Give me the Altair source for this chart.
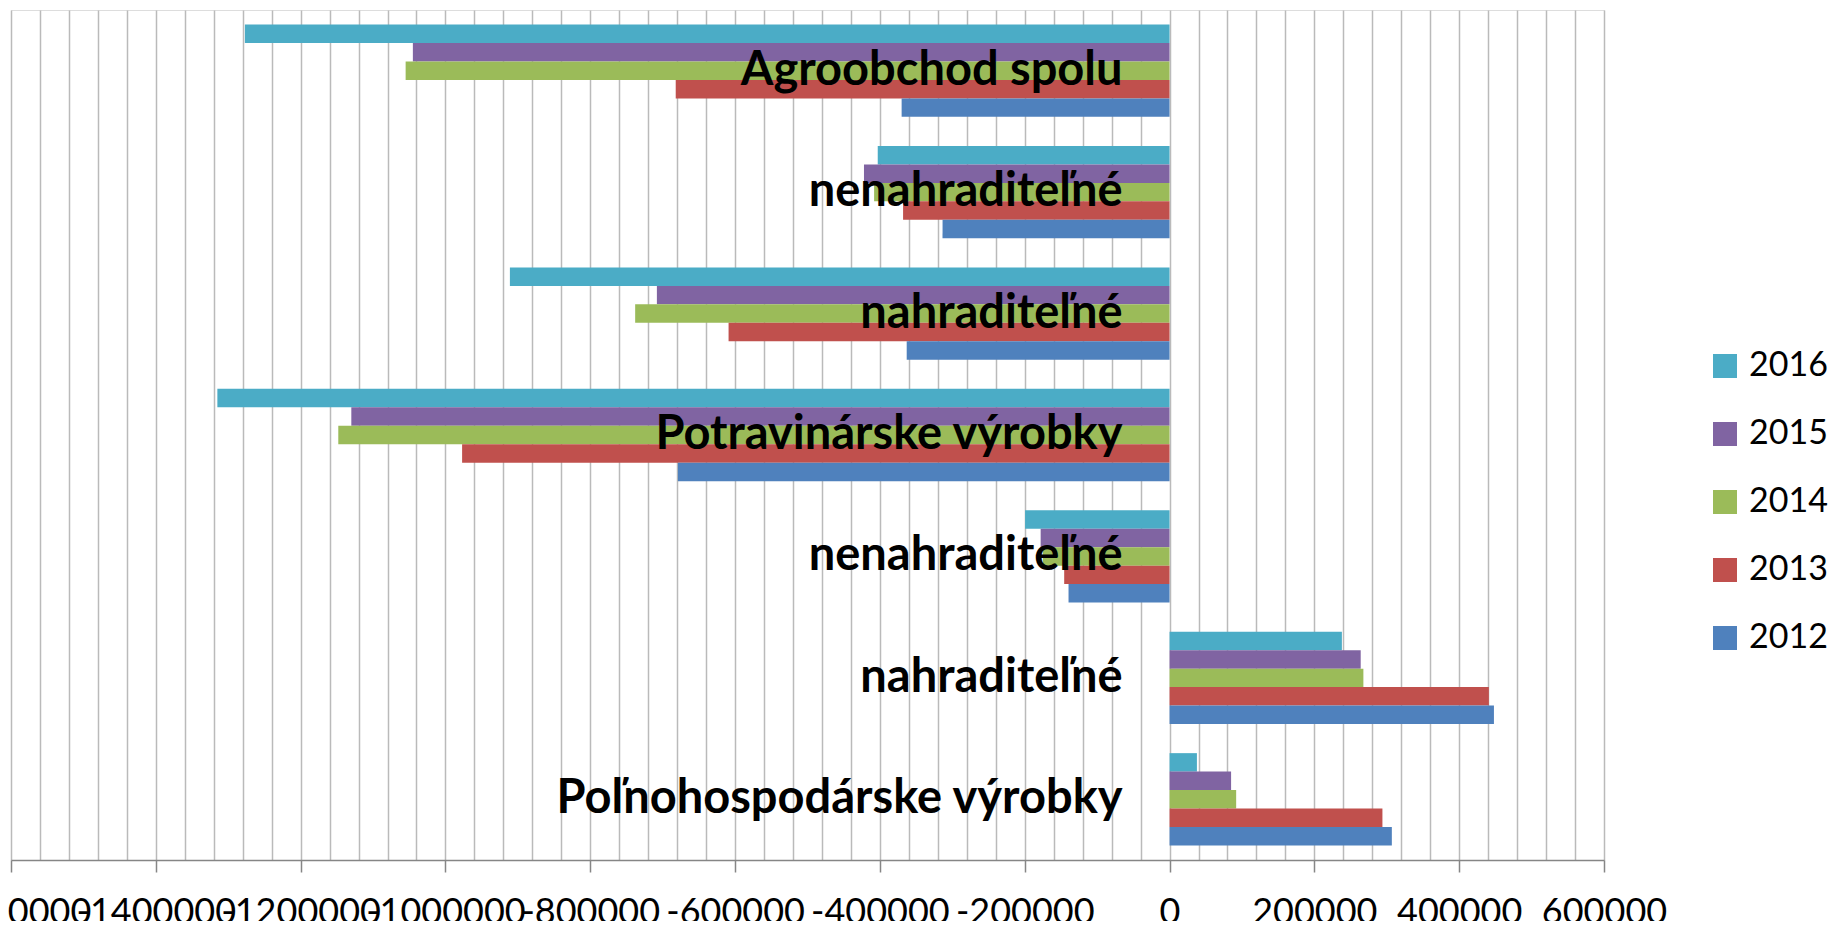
import altair as alt
import pandas as pd

# categories top -> bottom (keys keep duplicate labels apart)
cat_keys = ["c0", "c1", "c2", "c3", "c4", "c5", "c6"]
cat_labels = [
    "Agroobchod spolu",
    "nenahraditeľné",
    "nahraditeľné",
    "Potravinárske výrobky",
    "nenahraditeľné",
    "nahraditeľné",
    "Poľnohospodárske výrobky",
]
years = ["2016", "2015", "2014", "2013", "2012"]
colors = ["#4BACC6", "#8064A2", "#9BBB59", "#C0504D", "#4F81BD"]

v2016 = [-1277000, -403000, -911000, -1315000, -199500, 238000, 37800]
v2015 = [-1045000, -422000, -708000, -1130000, -178000, 264000, 85000]
v2014 = [-1055000, -408000, -738000, -1148000, -175000, 267700, 92000]
v2013 = [-682000, -368000, -609000, -977000, -145500, 441000, 294000]
v2012 = [-370000, -313500, -363000, -679000, -139500, 448000, 307000]

x_min, x_max = -1600000, 600000
major_ticks = list(range(x_min, x_max + 1, 200000))
grid_ticks = list(range(x_min, x_max + 1, 40000))

series = {"2016": v2016, "2015": v2015, "2014": v2014, "2013": v2013, "2012": v2012}
rows = []
for y in years:
    for k, lab, v in zip(cat_keys, cat_labels, series[y]):
        rows.append({"key": k, "label": lab, "year": y, "value": v})
df = pd.DataFrame(rows)
lab_df = pd.DataFrame({"key": cat_keys, "label": cat_labels, "pos": [0] * len(cat_keys)})

W, H = 1593, 850
FONT = "Lato"
zero_px = W * (0 - x_min) / (x_max - x_min)

x_scale = alt.Scale(domain=[x_min, x_max], nice=False, zero=False)
y_scale = alt.Scale(domain=cat_keys, paddingInner=0.24, paddingOuter=0.12)

bars = alt.Chart(df).mark_bar().encode(
    x=alt.X(
        "value:Q",
        scale=x_scale,
        axis=alt.Axis(
            orient="bottom", values=major_ticks, grid=False, title=None,
            tickSize=12, tickColor="#868686", tickWidth=1.5,
            domainColor="#868686", domainWidth=1.5,
            labelFont=FONT, labelFontSize=36, labelColor="black",
            labelPadding=23, labelOverlap=False, labelFlush=False,
            labelExpr="datum.value + ''",
        ),
    ),
    y=alt.Y(
        "key:N", sort=cat_keys, scale=y_scale,
        axis=alt.Axis(
            orient="left", position=zero_px, labels=False, title=None,
            bandPosition=0, tickSize=16, tickColor="#868686", tickWidth=1.5,
            domainColor="#868686", domainWidth=1.5, grid=False,
        ),
    ),
    yOffset=alt.YOffset("year:N", sort=years, scale=alt.Scale(domain=years, paddingInner=0, paddingOuter=0)),
    color=alt.Color(
        "year:N",
        scale=alt.Scale(domain=years, range=colors),
        legend=alt.Legend(
            title=None, orient="none", legendX=1697, legendY=339,
            symbolType="square", symbolSize=576, symbolStrokeWidth=0,
            labelFont=FONT, labelFontSize=34, labelColor="black",
            labelOffset=7, rowPadding=34,
        ),
    ),
)

labels = alt.Chart(lab_df).mark_text(
    align="right", baseline="middle", dx=-47,
    font=FONT, fontSize=47, fontWeight="bold", color="black",
).encode(
    x=alt.X(
        "pos:Q", scale=x_scale,
        axis=alt.Axis(
            orient="bottom", values=grid_ticks, grid=True, labels=False,
            ticks=False, domain=False, title=None,
            gridColor="#BABABA", gridWidth=1.5,
        ),
    ),
    y=alt.Y("key:N", sort=cat_keys, scale=y_scale, axis=None),
    text="label:N",
)

chart = alt.layer(bars, labels).resolve_axis(x="independent", y="independent").properties(
    width=W, height=H,
    autosize=alt.AutoSizeParams(type="none"),
    padding={"left": 3, "top": 2, "right": 225, "bottom": 61},
).configure_view(stroke=None).configure(background="white")

chart.save("out.html", embed_options={"renderer": "svg", "actions": False})
